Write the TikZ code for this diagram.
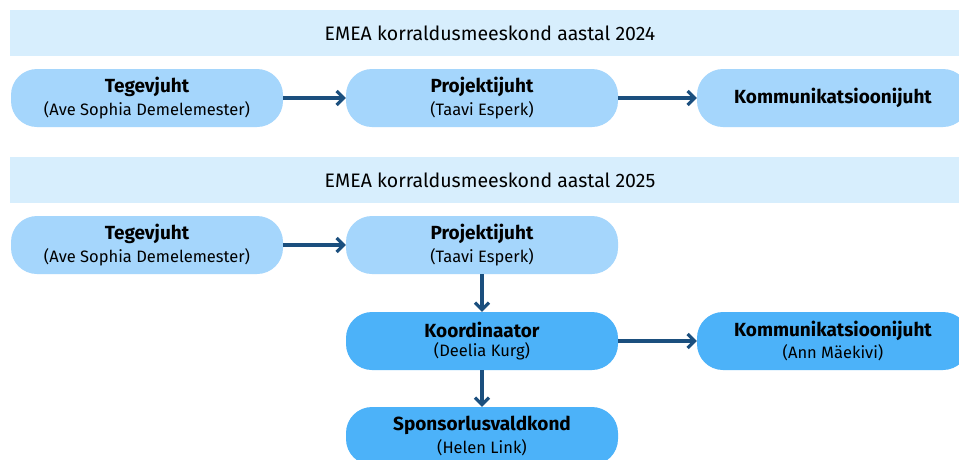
\documentclass[tikz,border=0pt]{standalone}
\usepackage{fontspec}
\setmainfont{Fira Sans}
\usetikzlibrary{arrows.meta}

\definecolor{bannerblue}{HTML}{D7EEFD}
\definecolor{paleblue}{HTML}{A5D6FC}
\definecolor{deepblue}{HTML}{4CB2F9}
\definecolor{arrowblue}{HTML}{1B4F7E}

\tikzset{
  banner/.style={fill=bannerblue,minimum width=960pt,minimum height=46pt,inner sep=0pt,font=\fontsize{19.5}{22}\selectfont},
  rolebox/.style={rounded corners=26pt,minimum width=272pt,minimum height=58pt,inner sep=0pt,align=center},
  pale/.style={rolebox,fill=paleblue},
  deep/.style={rolebox,fill=deepblue},
  link/.style={arrowblue,line width=3.2pt,-{Straight Barb[length=7pt,width=14pt,line width=3.2pt]}}
}
\newcommand{\role}[2]{{\fontsize{19}{22}\selectfont\bfseries #1}\\[3pt]{\fontsize{16.5}{20}\selectfont #2}}

\begin{document}
\begin{tikzpicture}[x=1pt,y=-1pt]
  \useasboundingbox (0,0) rectangle (959,459);
  \clip (0,0) rectangle (959,459);
  \fill[white] (0,0) rectangle (959,459);
  % aasta 2024
  \node[banner](b1)at(490,33){EMEA korraldusmeeskond aastal 2024};
  \node[pale](t1)at(147,98){\role{Tegevjuht}{(Ave Sophia Demelemester)}};
  \node[pale](p1)at(482,98){\role{Projektijuht}{(Taavi Esperk)}};
  \node[pale,font=\fontsize{19}{22}\selectfont\bfseries](k1)at(833,98){Kommunikatsioonijuht};
  \draw[link](t1)--(p1);
  \draw[link](p1)--(k1);
  % aasta 2025
  \node[banner](b2)at(490,180){EMEA korraldusmeeskond aastal 2025};
  \node[pale](t2)at(147,245){\role{Tegevjuht}{(Ave Sophia Demelemester)}};
  \node[pale](p2)at(482,245){\role{Projektijuht}{(Taavi Esperk)}};
  \node[deep](ko)at(482,341){\role{Koordinaator}{(Deelia Kurg)}};
  \node[deep](k2)at(833,341){\role{Kommunikatsioonijuht}{(Ann Mäekivi)}};
  \node[deep](sp)at(482,436){\role{Sponsorlusvaldkond}{(Helen Link)}};
  \draw[link](t2)--(p2);
  \draw[link](p2)--(ko);
  \draw[link](ko)--(k2);
  \draw[link](ko)--(sp);
\end{tikzpicture}
\end{document}
